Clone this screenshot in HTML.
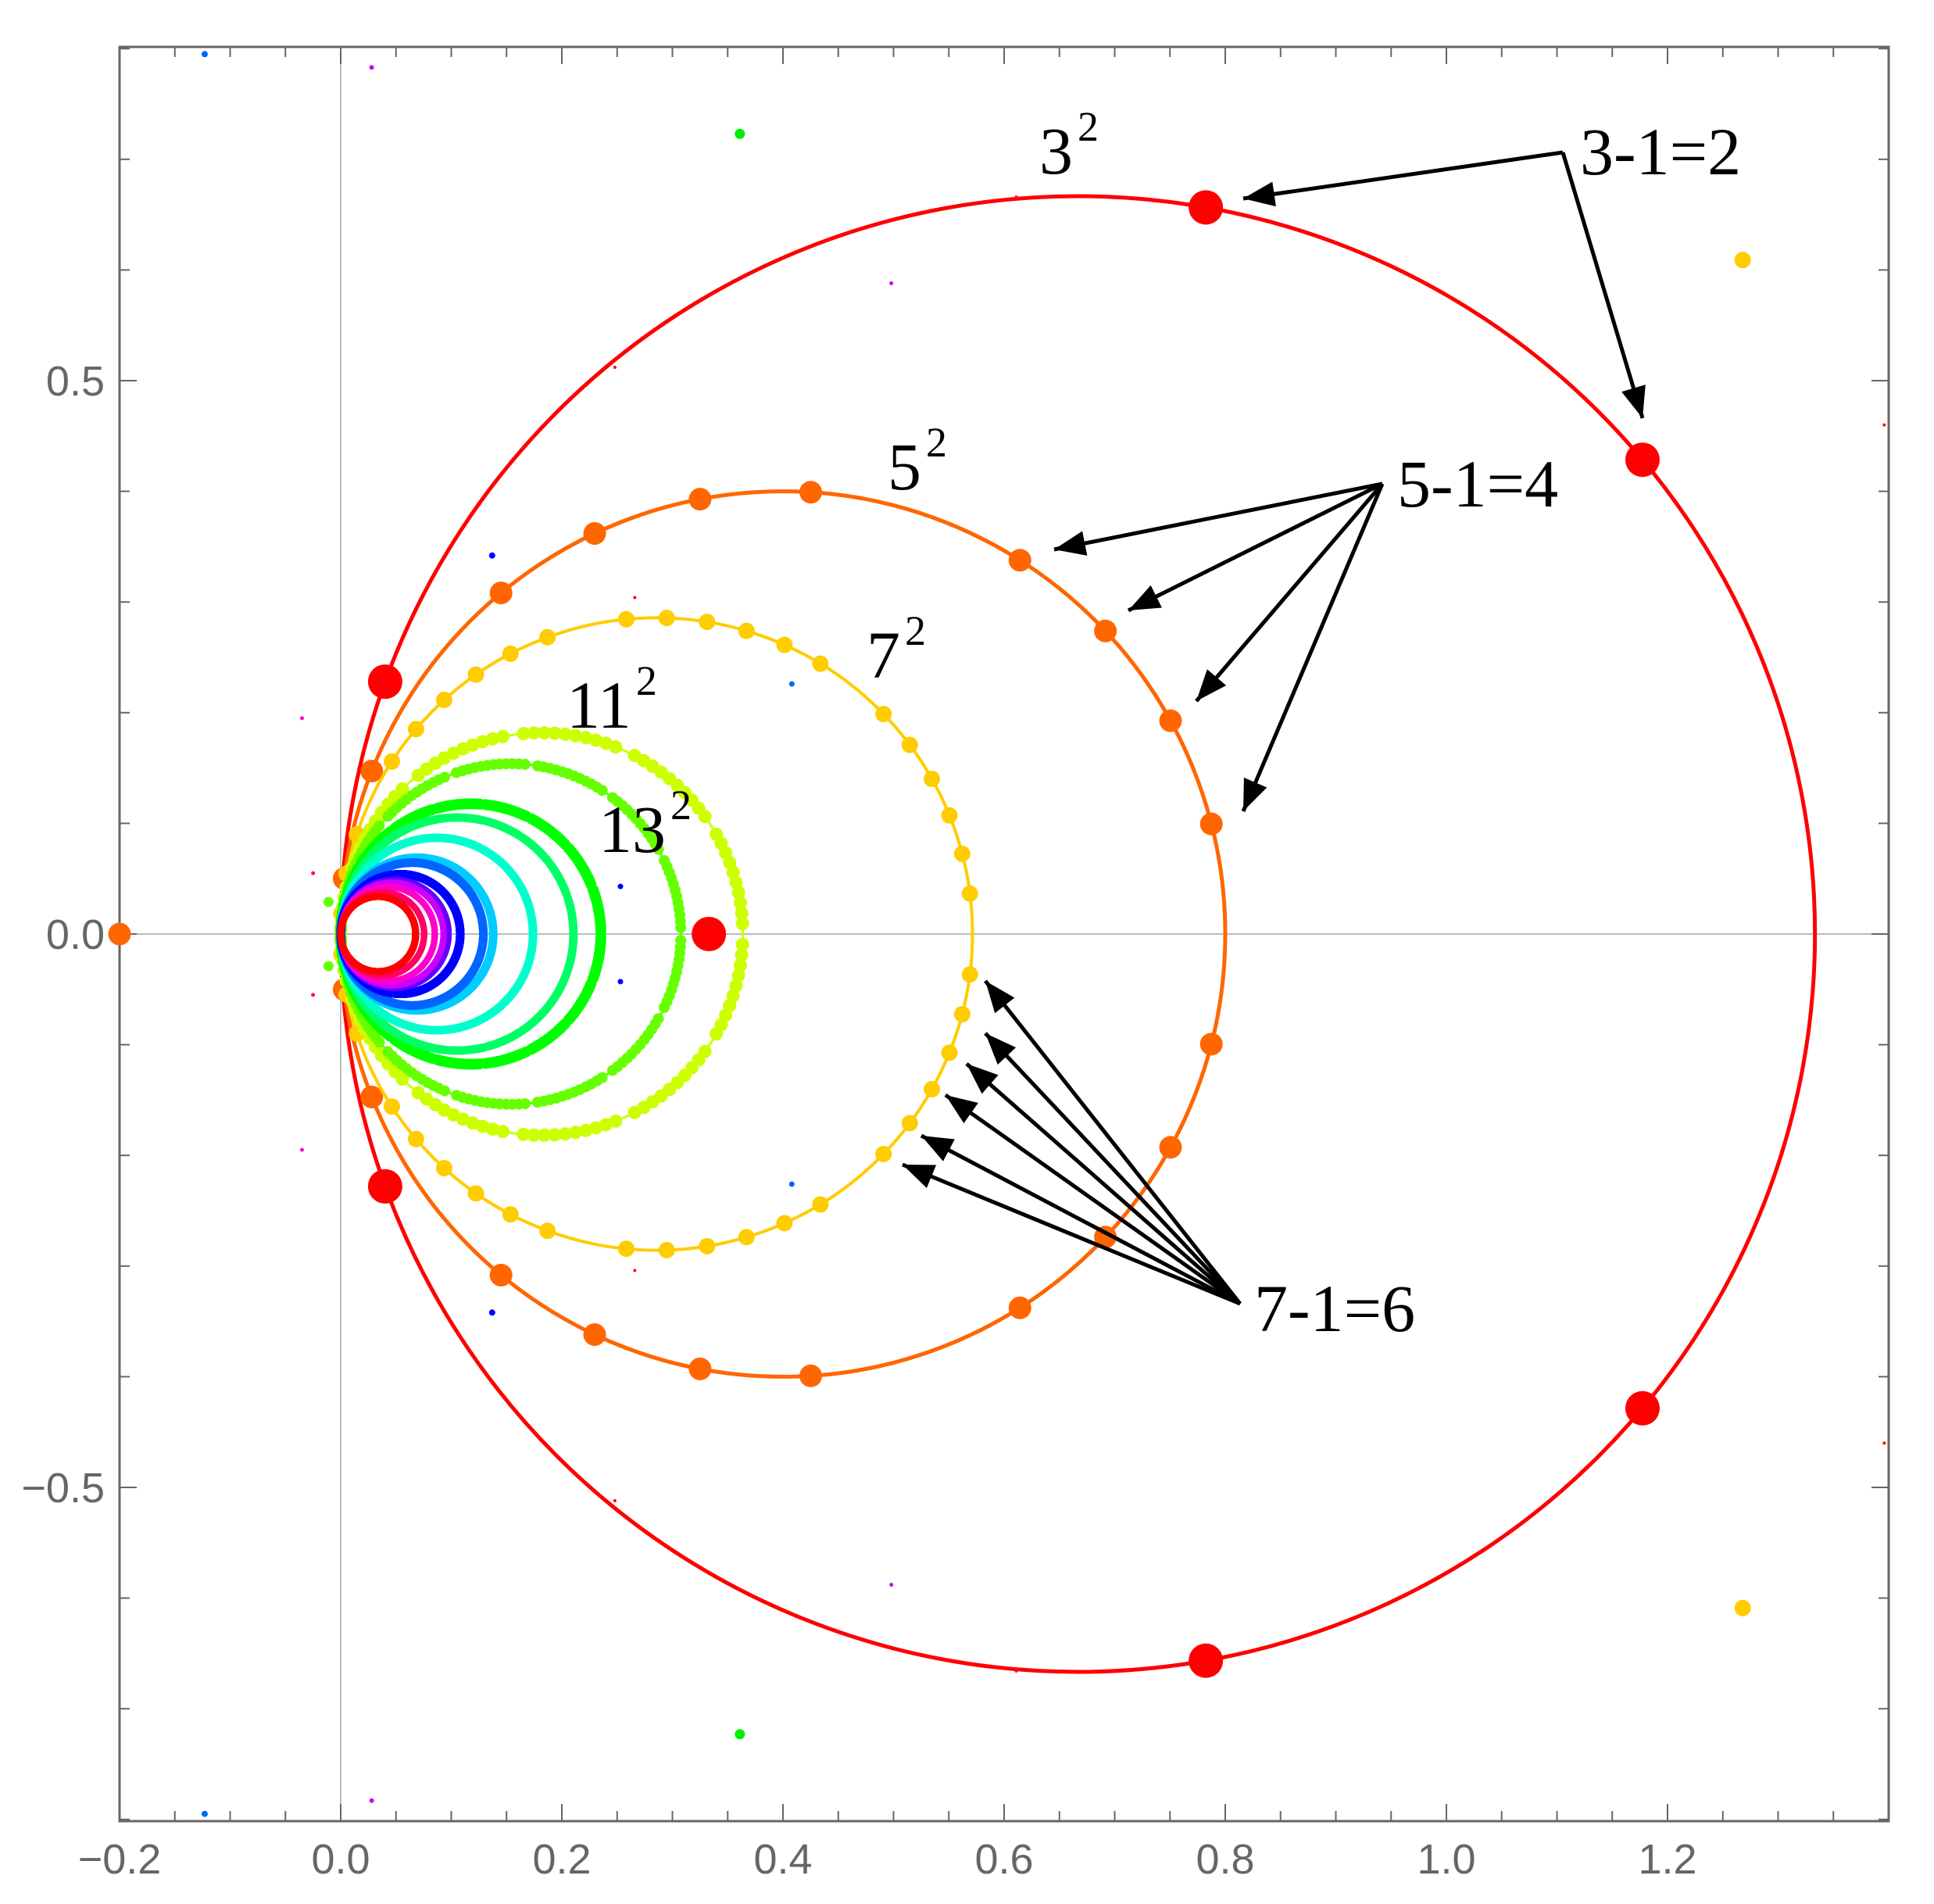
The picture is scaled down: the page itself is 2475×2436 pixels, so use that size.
<!DOCTYPE html>
<html><head><meta charset="utf-8"><style>
html,body{margin:0;padding:0;background:#fff;}
svg{display:block;}
</style></head><body>
<svg id="chart" xmlns="http://www.w3.org/2000/svg" width="2475" height="2436" viewBox="0 0 2475 2436">
<rect x="0" y="0" width="2475" height="2436" fill="#fff"/>
<g id="axes"></g>
<g id="marks"></g>
<g id="annot"></g>
</svg>
<script>
// ---- data ----
const primes = [3,5,7,11,13,17,19,23,29,31,37,41,43,47,53,59];
const primeColors = ["#ff0000","#ff6600","#ffcc00","#ccff00","#66ff00","#00ff00","#00ff66","#00ffcc","#00ccff","#0066ff","#0000ff","#6600ff","#cc00ff","#ff00cc","#ff0066","#ff0000"];
const dotDiam = [44,29,21,17,14,14,11,11,11,11,11,8,8,8,8,9];
const lineW = [5,5,4,3,3,3,3,3,3,3,3,3,3,3,3,3];
const extraX = [0.333,-0.2,1.268,1.268,0.361,0.361,-0.123,-0.123,0.137,0.137,0.408,0.408,0.253,0.253,0.028,0.028,0.498,0.498,-0.035,-0.035,0.248,0.248,0.611,0.611,0.266,0.266,1.396,1.396,-0.025,-0.025,-0.011,-0.011];
const extraY = [0,0,0.609,-0.609,0.723,-0.723,0.795,-0.795,0.342,-0.342,0.226,-0.226,0.043,-0.043,0.783,-0.783,0.588,-0.588,0.195,-0.195,0.512,-0.512,0.666,-0.666,0.304,-0.304,0.46,-0.46,0.055,-0.055,0.029,-0.029];
const extraColor = ["#ff0000","#ff6600","#ffcc00","#ffcc00","#00ee00","#00ee00","#0066ff","#0066ff","#0000ff","#0000ff","#0066ff","#0066ff","#0000ff","#0000ff","#cc00ff","#cc00ff","#cc00ff","#cc00ff","#ff00cc","#ff00cc","#ff0000","#ff0000","#ff0066","#ff0066","#ff0000","#ff0000","#ff0000","#ff0000","#ff0066","#ff0066","#66ff00","#66ff00"];
const extraSize = [44,29,21,21,13,13,8,8,8,8,7,7,7,7,6,6,5,5,5,5,4,4,4,4,4,4,4,4,5,5,13,13];
const xTicks = [-0.2,0.0,0.2,0.4,0.6,0.8,1.0,1.2];
const xTickLabels = ["\u22120.2","0.0","0.2","0.4","0.6","0.8","1.0","1.2"];
const yTicks = [0.5,0.0,-0.5];
const yTickLabels = ["0.5","0.0","\u22120.5"];

// ---- scales ----
const L=153,R=2417,T=60,B=2330;
const X = x => 436 + x*1415;
const Y = y => 1195 - y*1416;
const NS="http://www.w3.org/2000/svg";
function mk(tag, attrs, parent){const e=document.createElementNS(NS,tag);for(const k in attrs)e.setAttribute(k,attrs[k]);parent.appendChild(e);return e;}
const axes=document.getElementById('axes'), marks=document.getElementById('marks'), annot=document.getElementById('annot');

let e=mk('line',{x1:X(0),y1:T,x2:X(0),y2:B,stroke:'#bbb','stroke-width':2},axes);


e=mk('line',{x1:L,y1:Y(0),x2:R,y2:Y(0),stroke:'#bbb','stroke-width':2},axes);



for(let v=-0.2; v<=1.4001; v+=0.05){
  const vv=Math.round(v*100)/100;
  const major=Math.abs(Math.round(vv*10)/10-vv)<1e-9 && Math.round(vv*10)%2===0;
  const len=major?22:13;
  mk('line',{x1:X(vv),y1:B,x2:X(vv),y2:B-len,stroke:'#666','stroke-width':2},axes);
  mk('line',{x1:X(vv),y1:T,x2:X(vv),y2:T+len,stroke:'#666','stroke-width':2},axes);
}
for(let v=-0.8; v<=0.8001; v+=0.1){
  const vv=Math.round(v*10)/10;
  if(Y(vv)<T||Y(vv)>B) continue;
  const major=Math.abs(vv*2-Math.round(vv*2))<1e-9;
  const len=major?22:13;
  mk('line',{x1:L,y1:Y(vv),x2:L+len,y2:Y(vv),stroke:'#666','stroke-width':2},axes);
  mk('line',{x1:R,y1:Y(vv),x2:R-len,y2:Y(vv),stroke:'#666','stroke-width':2},axes);
}
xTicks.forEach((v,i)=>{
  const t=mk('text',{x:X(v),y:2397,'text-anchor':'middle','font-family':'Liberation Sans, sans-serif','font-size':54,fill:'#666'},axes);
  t.textContent=xTickLabels[i];
  
  
});
yTicks.forEach((v,i)=>{
  const t=mk('text',{x:134,y:Y(v)+19,'text-anchor':'end','font-family':'Liberation Sans, sans-serif','font-size':54,fill:'#666'},axes);
  t.textContent=yTickLabels[i];
  
  
});
e=mk('rect',{x:L,y:T,width:R-L,height:B-T,fill:'none',stroke:'#666','stroke-width':3},axes);



primes.forEach((p,i)=>{
  const g=mk('g',{},marks);
  
  
  const c=2/p, r=2/p;
  mk('ellipse',{cx:X(c),cy:Y(0),rx:r*1415,ry:r*1416,fill:'none',stroke:primeColors[i],'stroke-width':lineW[i]},g);
  const n=p*p;
  for(let k=1;k<n;k++){
    if(k%p===0) continue;
    const a=2*Math.PI*k/n;
    mk('circle',{cx:X(c+r*Math.cos(a)),cy:Y(r*Math.sin(a)),r:dotDiam[i]/2,fill:primeColors[i]},g);
  }
});
extraX.forEach((x,i)=>{
  const d=mk('circle',{cx:X(x),cy:Y(extraY[i]),r:extraSize[i]/2,fill:extraColor[i]},marks);
  
  
});

function arrow(x1,y1,x2,y2){
  mk('line',{x1:x1,y1:y1,x2:x2,y2:y2,stroke:'#000','stroke-width':5},annot);
  const dx=x2-x1,dy=y2-y1,l=Math.hypot(dx,dy),ux=dx/l,uy=dy/l;
  const hl=40,hw=16;
  const bx=x2-ux*hl,by=y2-uy*hl;
  mk('polygon',{points:`${x2},${y2} ${bx-uy*hw},${by+ux*hw} ${bx+uy*hw},${by-ux*hw}`,fill:'#000'},annot);
}
arrow(2000,195,1591,254); arrow(2000,195,2102,535);
[[1349,703],[1444,781],[1531,897],[1591,1038]].forEach(t=>arrow(1769,619,t[0],t[1]));
[[1261,1255],[1261,1322],[1237,1361],[1210,1401],[1179,1453],[1155,1490]].forEach(t=>arrow(1587,1668,t[0],t[1]));

function label(txt,sup,x,y,name){
  const t=mk('text',{x:x,y:y,'font-family':'Liberation Serif, serif','font-size':86,fill:'#000'},annot);
  
  
  t.appendChild(document.createTextNode(txt));
  if(sup){const s=mk('tspan',{'font-size':54,dy:-42,dx:6},t);s.textContent=sup;}
}
label('3-1=2','',2022,223,'label-3-minus-1');
label('5-1=4','',1788,648,'label-5-minus-1');
label('7-1=6','',1605,1703,'label-7-minus-1');
label('3','2',1330,222,'label-3-squared');
label('5','2',1136,626,'label-5-squared');
label('7','2',1109,867,'label-7-squared');
label('11','2',725,931,'label-11-squared');
label('13','2',766,1090,'label-13-squared');
</script>
</body></html>
